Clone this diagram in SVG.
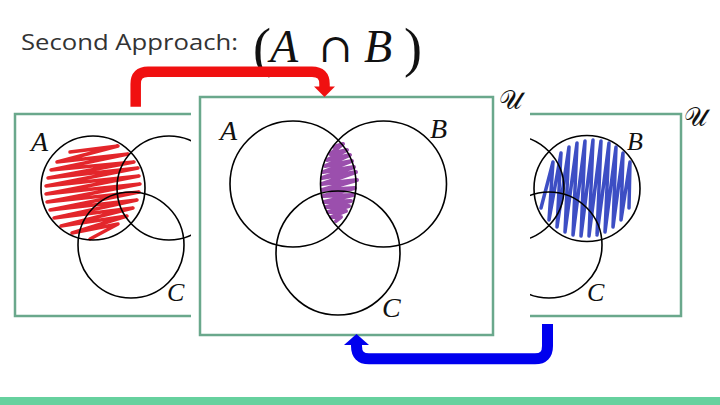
<svg xmlns="http://www.w3.org/2000/svg" width="720" height="405" viewBox="0 0 720 405">
<style>
.box{fill:#fff;stroke:#6aa88c;stroke-width:2.5}
.c{fill:none;stroke:#000;stroke-width:1.6}
.m{font-family:"Liberation Serif","DejaVu Serif",serif;font-style:italic;fill:#111}
.u{font-family:"DejaVu Serif","DejaVu Sans","Noto Sans",serif;fill:#111}
.sc{fill:none;stroke-linejoin:round;stroke-linecap:round}
</style>
<rect x="0" y="0" width="720" height="405" fill="#fff"/>
<g id="title">
<text x="21" y="50" font-family="'Open Sans','Liberation Sans',sans-serif" font-size="22.5" fill="#333" textLength="217" lengthAdjust="spacingAndGlyphs">Second Approach:</text>
</g>
<g id="formula" font-family="'Liberation Serif','DejaVu Serif',serif" fill="#111">
<text x="253" y="66" font-size="54">(</text>
<text x="270" y="62" font-size="46" font-style="italic">A</text>
<text x="319" y="62" font-size="40" font-family="'DejaVu Serif',serif">∩</text>
<text x="364" y="62" font-size="46" font-style="italic">B</text>
<text x="404" y="66" font-size="54">)</text>
</g>
<g id="box-left">
<rect class="box" x="15" y="114" width="248" height="202"/>
<path class="sc" stroke="#e3262b" stroke-width="3.5" d="M70,152 L118,146 L57,162 L128,154 L51,170 L134,162 L48,178 L138,168 L46,186 L139,176 L46,194 L140,184 L47,202 L139,192 L50,210 L137,200 L54,218 L133,208 L61,226 L127,216 L72,233 L118,224 L90,239"/>
<circle class="c" cx="93" cy="188" r="52"/>
<circle class="c" cx="169" cy="188" r="52"/>
<circle class="c" cx="131" cy="245" r="53"/>
<text class="m" x="31" y="151" font-size="28">A</text>
<text class="m" x="167" y="301" font-size="26">C</text>
</g>
<g id="box-right">
<rect class="box" x="433" y="114" width="248" height="202"/>
<path class="sc" stroke="#3d4ec4" stroke-width="3.5" d="M541,208 L553,162 L549,220 L561,153 L557,227 L569,147 L565,232 L577,143 L573,235 L585,141 L581,236 L593,140 L589,236 L601,141 L597,235 L609,143 L605,232 L616,147 L613,227 L623,153 L621,220 L630,162 L629,208"/>
<circle class="c" cx="511" cy="188.5" r="53"/>
<circle class="c" cx="587" cy="188.5" r="53"/>
<circle class="c" cx="549" cy="245" r="53"/>
<text class="m" x="627" y="150" font-size="26">B</text>
<text class="m" x="587" y="301" font-size="26">C</text>
<text class="u" x="684" y="126" font-size="26">𝒰</text>
</g>
<g id="box-middle">
<rect x="191" y="84" width="339" height="258" fill="#fff"/>
<rect class="box" x="200" y="97" width="293" height="238"/>
<path class="sc" stroke="#9b4fad" stroke-width="4" d="M334,147 L343,144 L330,154 L347,150 L327,160 L350,155 L325,166 L352,161 L323,172 L354,167 L322,178 L356,172 L322,184 L357,180 L322,190 L355,188 L323,196 L353,195 L324,202 L351,201 L326,207 L349,206 L328,212 L346,211 L331,217 L341,217 L336,221"/>
<circle class="c" cx="293" cy="184" r="63"/>
<circle class="c" cx="383.5" cy="184" r="63"/>
<circle class="c" cx="338" cy="253" r="62"/>
<text class="m" x="220" y="140" font-size="28">A</text>
<text class="m" x="430" y="138" font-size="28">B</text>
<text class="m" x="382" y="317" font-size="28">C</text>
<text class="u" x="499" y="109" font-size="26">𝒰</text>
</g>
<g id="connectors">
<path d="M135.7,106.7 V84 Q135.7,71.7 148,71.7 H312 Q324.5,71.7 324.5,84 V88" fill="none" stroke="#f01010" stroke-width="10.5"/>
<polygon points="314,86.5 335,86.5 324.5,97" fill="#f01010"/>
<path d="M547.5,324 V346 Q547.5,358.8 535,358.8 H369 Q356.5,358.8 356.5,346 V343" fill="none" stroke="#0000ee" stroke-width="11"/>
<polygon points="344,345 369,345 356.5,334" fill="#0000ee"/>
</g>
<rect x="0" y="397" width="720" height="8" fill="#66d19e"/>
</svg>
